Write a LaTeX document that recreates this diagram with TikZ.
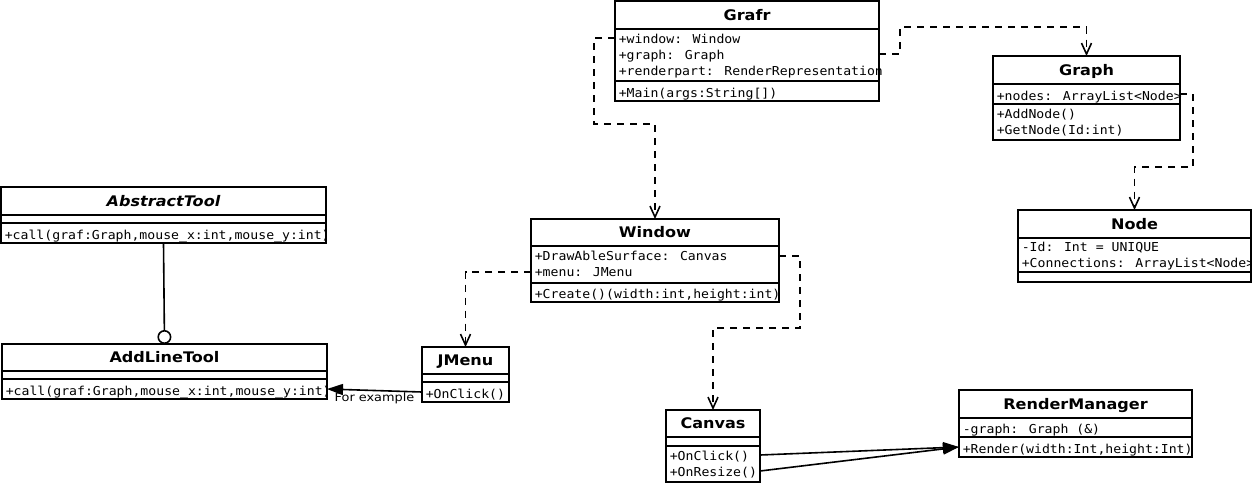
\documentclass[tikz,border=0pt]{standalone}
\usepackage{fontspec}
\usetikzlibrary{arrows.meta,positioning}
\newfontfamily\titlefont[FakeStretch=1.1]{DejaVu Sans}
\newfontfamily\memberfont[FakeStretch=1.07]{DejaVu Sans Mono}
\newfontfamily\labelfont[FakeStretch=1.12]{DejaVu Sans}
\newcommand\memberstrut{\rule[-3.5pt]{0pt}{16pt}}
\begin{document}
\begin{tikzpicture}[x=1pt,y=-1pt,line width=1.6pt,
  classtitle/.style={draw,anchor=north west,inner sep=0pt,outer sep=0pt,minimum height=28pt,
    font=\titlefont\bfseries\fontsize{14.6}{16}\selectfont,text height=10.5pt,text depth=0pt},
  classpart/.style={draw,anchor=north west,inner sep=0pt,outer sep=0pt},
  members/.style={anchor=west,inner sep=0pt,xshift=3pt,yshift=-1.5pt,align=left,
    font=\memberfont\fontsize{12.3}{16}\selectfont,
    execute at begin node=\memberstrut,execute at end node=\memberstrut},
  dependency/.style={dash pattern=on 7pt off 6pt,-{Straight Barb[length=11pt,width=10pt]}},
  call/.style={-{Triangle[length=16pt,width=11pt]}},
  note/.style={font=\labelfont\fontsize{11.5}{14}\selectfont,inner sep=1pt}]
 \useasboundingbox (0,0) rectangle (1252,483);
 % Grafr
 \node[classtitle,minimum width=264pt] (grafr) at (615,1) {Grafr};
 \node[classpart,minimum width=264pt,minimum height=52pt] (grafr-a) at (grafr.south west) {};
 \node[classpart,minimum width=264pt,minimum height=20pt] (grafr-m) at (grafr-a.south west) {};
 \node[members] (grafr-attrs) at (grafr-a.west) {+window: Window\\+graph: Graph\\+renderpart: RenderRepresentation};
 \node[members] (grafr-ops) at (grafr-m.west) {+Main(args:String[])};
 % Graph
 \node[classtitle,minimum width=187pt] (graph) at (993,56) {Graph};
 \node[classpart,minimum width=187pt,minimum height=20pt] (graph-a) at (graph.south west) {};
 \node[classpart,minimum width=187pt,minimum height=36pt] (graph-m) at (graph-a.south west) {};
 \node[members] (graph-attrs) at (graph-a.west) {+nodes: ArrayList<Node>};
 \node[members] (graph-ops) at (graph-m.west) {+AddNode()\\+GetNode(Id:int)};
 % Node
 \node[classtitle,minimum width=233pt] (nodeclass) at (1018,210) {Node};
 \node[classpart,minimum width=233pt,minimum height=34pt] (nodeclass-a) at (nodeclass.south west) {};
 \node[classpart,minimum width=233pt,minimum height=10pt] (nodeclass-m) at (nodeclass-a.south west) {};
 \node[members] (nodeclass-attrs) at (nodeclass-a.west) {-Id: Int = UNIQUE\\+Connections: ArrayList<Node>};
 % AbstractTool
 \node[classtitle,minimum width=325pt] (abstracttool) at (1,187) {\itshape AbstractTool};
 \node[classpart,minimum width=325pt,minimum height=8pt] (abstracttool-a) at (abstracttool.south west) {};
 \node[classpart,minimum width=325pt,minimum height=20pt] (abstracttool-m) at (abstracttool-a.south west) {};
 \node[members] (abstracttool-ops) at (abstracttool-m.west) {+call(graf:Graph,mouse\_x:int,mouse\_y:int)};
 % AddLineTool
 \node[classtitle,minimum width=325pt,minimum height=27pt] (addlinetool) at (2,344) {AddLineTool};
 \node[classpart,minimum width=325pt,minimum height=8pt] (addlinetool-a) at (addlinetool.south west) {};
 \node[classpart,minimum width=325pt,minimum height=20pt] (addlinetool-m) at (addlinetool-a.south west) {};
 \node[members] (addlinetool-ops) at (addlinetool-m.west) {+call(graf:Graph,mouse\_x:int,mouse\_y:int)};
 % Window
 \node[classtitle,minimum width=248pt,minimum height=27pt] (window) at (531,219) {Window};
 \node[classpart,minimum width=248pt,minimum height=37pt] (window-a) at (window.south west) {};
 \node[classpart,minimum width=248pt,minimum height=19pt] (window-m) at (window-a.south west) {};
 \node[members] (window-attrs) at (window-a.west) {+DrawAbleSurface: Canvas\\+menu: JMenu};
 \node[members] (window-ops) at (window-m.west) {+Create()(width:int,height:int)};
 % JMenu
 \node[classtitle,minimum width=87pt,minimum height=27pt] (jmenu) at (422,347) {JMenu};
 \node[classpart,minimum width=87pt,minimum height=8pt] (jmenu-a) at (jmenu.south west) {};
 \node[classpart,minimum width=87pt,minimum height=20pt] (jmenu-m) at (jmenu-a.south west) {};
 \node[members] (jmenu-ops) at (jmenu-m.west) {+OnClick()};
 % Canvas
 \node[classtitle,minimum width=94pt,minimum height=27pt] (canvas) at (666,410) {Canvas};
 \node[classpart,minimum width=94pt,minimum height=9pt] (canvas-a) at (canvas.south west) {};
 \node[classpart,minimum width=94pt,minimum height=36pt] (canvas-m) at (canvas-a.south west) {};
 \node[members] (canvas-ops) at (canvas-m.west) {+OnClick()\\+OnResize()};
 % RenderManager
 \node[classtitle,minimum width=233pt] (rendermanager) at (959,390) {RenderManager};
 \node[classpart,minimum width=233pt,minimum height=19pt] (rendermanager-a) at (rendermanager.south west) {};
 \node[classpart,minimum width=233pt,minimum height=20pt] (rendermanager-m) at (rendermanager-a.south west) {};
 \node[members] (rendermanager-attrs) at (rendermanager-a.west) {-graph: Graph (\&)};
 \node[members] (rendermanager-ops) at (rendermanager-m.west) {+Render(width:Int,height:Int)};
 % connectors
 \draw[dependency] (grafr-a.north west) ++(0,9) -- ++(-21,0) -- ++(0,86) -| (window.north);
 \draw[dependency] (grafr-a.north east) ++(0,25) -- ++(21,0) -- ++(0,-27) -| (graph.north);
 \draw[dependency] (graph-a.east) -- ++(13,0) -- ++(0,73) -| (nodeclass.north);
 \draw[dependency] (window-a.north west) ++(0,26) -| (jmenu.north);
 \draw[dependency] (window-a.north east) ++(0,10) -- ++(21,0) -- ++(0,72) -| (canvas.north);
 \draw[-{Circle[open,length=14pt]}] (abstracttool-m.south) -- (addlinetool.north);
 \draw[call] (jmenu-m.west) -- (addlinetool-m.east) node[note,midway,below] (forexample) {For example};
 \draw[call] (canvas-m.north east) ++(0,9) -- (rendermanager-m.west);
 \draw[call] (canvas-m.north east) ++(0,25) -- (rendermanager-m.west);
\end{tikzpicture}
\end{document}
